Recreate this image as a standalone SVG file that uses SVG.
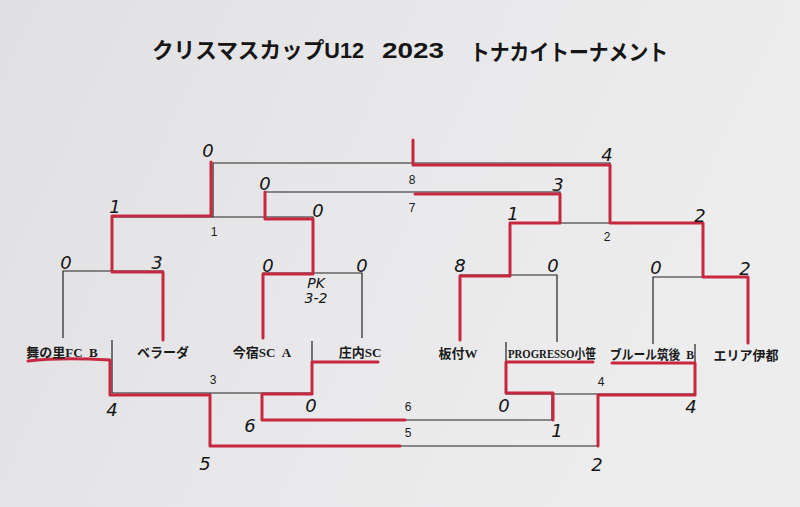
<svg xmlns="http://www.w3.org/2000/svg" width="800" height="507" viewBox="0 0 800 507">
<defs>
<linearGradient id="paper" x1="0" y1="0" x2="1" y2="0.3">
<stop offset="0" stop-color="#e0e0e2"/>
<stop offset="0.6" stop-color="#e9e9eb"/>
<stop offset="1" stop-color="#ededee"/>
</linearGradient>
<style>
.ln{fill:none;stroke:#222;stroke-width:1.2}
.rd{fill:none;stroke:#c8283f;stroke-width:3;stroke-linejoin:round;stroke-linecap:round}
.team{font-family:"Liberation Serif","Noto Sans CJK JP",serif;font-weight:bold;font-size:13px;fill:#1a1a1a;text-anchor:middle;white-space:pre}
.num{font-family:"Liberation Sans","Noto Sans CJK JP",sans-serif;font-size:12px;fill:#1a1a1a;text-anchor:middle}
.hw{font-family:"DejaVu Sans",sans-serif;font-style:italic;font-size:18px;fill:#151515;text-anchor:middle}
.title{font-family:"Liberation Sans","Noto Sans CJK JP",sans-serif;font-weight:bold;font-size:22px;fill:#151515}
</style>
</defs>
<rect width="800" height="507" fill="url(#paper)"/>
<g id="title">
<text class="title" x="152" y="58" textLength="212" lengthAdjust="spacingAndGlyphs">クリスマスカップU12</text>
<text class="title" x="382" y="58" textLength="62" lengthAdjust="spacingAndGlyphs">2023</text>
<text class="title" x="470" y="60" textLength="198" lengthAdjust="spacingAndGlyphs">トナカイトーナメント</text>
</g>

<g id="connectors">
<path class="ln" d="M213,217 V163 H610 V223"/>
<path class="ln" d="M265,219 V192 H560 V223"/>
<path class="ln" d="M112,272 V217 H313 V273"/>
<path class="ln" d="M510,276 V223 H703 V277"/>
<path class="ln" d="M63,338 V271 H163 V338"/>
<path class="ln" d="M263,338 V273 H362 V338"/>
<path class="ln" d="M460,340 V275 H557 V342"/>
<path class="ln" d="M653,344 V277 H748 V343"/>
<path class="ln" d="M112,340 V393 H312 V341"/>
<path class="ln" d="M506,342 V394 H695 V344"/>
<path class="ln" d="M262,394 V420 H552 V394"/>
<path class="ln" d="M210,393 V446 H598 V394"/>

<path class="rd" d="M413,140 V165 H610 V223 H703 V277 H748 V343"/>
<path class="rd" d="M211,162 V216 H112 V272 H163 V340"/>
<path class="rd" d="M265,192 V219 H313 V274 H263 V338"/>
<path class="rd" d="M415,194 H560 V223 H510 V276 H460 V340"/>
<path class="rd" d="M28,361 Q60,357 110,360 V395 H210 V446 H400"/>
<path class="rd" d="M378,362 H312 V394 H262 V420 H405"/>
<path class="rd" d="M593,362 H506 V393 H553 V420"/>
<path class="rd" d="M612,363 H695 V395 H598 V446"/>
</g>

<g id="match-labels">
<text class="num" x="412" y="184">8</text>
<text class="num" x="412" y="212">7</text>
<text class="num" x="214" y="236">1</text>
<text class="num" x="607" y="241">2</text>
<text class="num" x="213" y="384">3</text>
<text class="num" x="601" y="386">4</text>
<text class="num" x="408" y="411">6</text>
<text class="num" x="408" y="437">5</text>
</g>

<g id="scores">
<text class="hw" x="208" y="157">0</text>
<text class="hw" x="607" y="161">4</text>
<text class="hw" x="265" y="190">0</text>
<text class="hw" x="558" y="191">3</text>
<text class="hw" x="115" y="213">1</text>
<text class="hw" x="318" y="217">0</text>
<text class="hw" x="513" y="220">1</text>
<text class="hw" x="700" y="222">2</text>
<text class="hw" x="66" y="269">0</text>
<text class="hw" x="157" y="269">3</text>
<text class="hw" x="268" y="272">0</text>
<text class="hw" x="362" y="272">0</text>
<text class="hw" x="460" y="272">8</text>
<text class="hw" x="553" y="272">0</text>
<text class="hw" x="656" y="274">0</text>
<text class="hw" x="745" y="275">2</text>
<text class="hw" x="316" y="288" style="font-size:14px">PK</text>
<text class="hw" x="316" y="303" style="font-size:14px">3-2</text>
<text class="hw" x="112" y="416">4</text>
<text class="hw" x="311" y="412">0</text>
<text class="hw" x="250" y="432">6</text>
<text class="hw" x="504" y="412">0</text>
<text class="hw" x="691" y="413">4</text>
<text class="hw" x="557" y="437">1</text>
<text class="hw" x="205" y="470">5</text>
<text class="hw" x="597" y="471">2</text>
</g>

<g id="team-maisato"><text class="team" x="62" y="357">舞の里FC&#160;&#160;B</text></g>
<g id="team-berada"><text class="team" x="163" y="357">ベラーダ</text></g>
<g id="team-imajuku"><text class="team" x="262" y="357">今宿SC&#160;&#160;A</text></g>
<g id="team-shonai"><text class="team" x="360" y="357">庄内SC</text></g>
<g id="team-itazuke"><text class="team" x="458" y="358">板付W</text></g>
<g id="team-progresso"><text class="team" x="552" y="358" textLength="88" lengthAdjust="spacingAndGlyphs">PROGRESSO小笹</text></g>
<g id="team-brule"><text class="team" x="652" y="359" textLength="84" lengthAdjust="spacingAndGlyphs">ブルール筑後&#160;&#160;B</text></g>
<g id="team-eria"><text class="team" x="746" y="360">エリア伊都</text></g>
</svg>
